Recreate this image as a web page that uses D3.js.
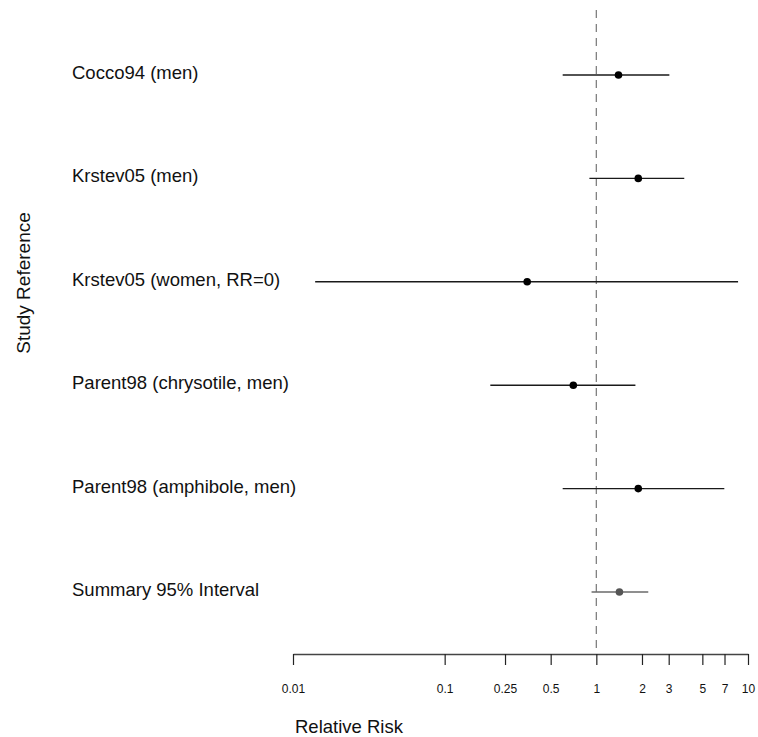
<!DOCTYPE html>
<html>
<head>
<meta charset="utf-8">
<script src="https://cdn.jsdelivr.net/npm/d3@7"></script>
<style>
  html, body { margin: 0; padding: 0; background: #fff; }
  svg { display: block; font-family: "Liberation Sans", Arial, Helvetica, sans-serif; }
</style>
</head>
<body>
<svg id="chart" width="758" height="737"></svg>
<script>
const studies = ["Cocco94 (men)", "Krstev05 (men)", "Krstev05 (women, RR=0)",
                 "Parent98 (chrysotile, men)", "Parent98 (amphibole, men)", "Summary 95% Interval"];
const estimates = [1.40, 1.89, 0.35, 0.705, 1.89, 1.42];
const lower = [0.60, 0.90, 0.014, 0.20, 0.60, 0.93];
const upper = [3.03, 3.8, 8.6, 1.81, 6.98, 2.2];
const tickValues = [0.01, 0.1, 0.25, 0.5, 1, 2, 3, 5, 7, 10];
const tickLabels = ["0.01", "0.1", "0.25", "0.5", "1", "2", "3", "5", "7", "10"];

const svg = d3.select("#chart");
const x = d3.scaleLog().domain([0.01, 10]).range([293, 748]);
const y = d3.scaleLinear().domain([0, studies.length - 1]).range([75, 592]);
const axisY = 654;

// reference line at RR = 1
svg.append("line")
  .attr("x1", x(1)).attr("x2", x(1))
  .attr("y1", 10).attr("y2", axisY)
  .attr("stroke", "#808080").attr("stroke-width", 1.3)
  .attr("stroke-dasharray", "8,6");

const data = studies.map((s, i) => ({ s, i, est: estimates[i], lo: lower[i], hi: upper[i],
  summary: i === studies.length - 1 }));

// labels
svg.append("g").selectAll("text").data(data).join("text")
  .attr("x", 72).attr("y", d => y(d.i) + 4)
  .attr("font-size", 18.5).attr("fill", "#111")
  .text(d => d.s);

// intervals
svg.append("g").selectAll("line").data(data).join("line")
  .attr("x1", d => x(d.lo)).attr("x2", d => x(d.hi))
  .attr("y1", d => y(d.i)).attr("y2", d => y(d.i))
  .attr("stroke", d => d.summary ? "#6a6a6a" : "#1a1a1a")
  .attr("stroke-width", 1.4);

// points
svg.append("g").selectAll("circle").data(data).join("circle")
  .attr("cx", d => x(d.est)).attr("cy", d => y(d.i))
  .attr("r", 3.8)
  .attr("fill", d => d.summary ? "#555" : "#000");

// x axis
const axis = d3.axisBottom(x)
  .tickValues(tickValues)
  .tickFormat((d, i) => tickLabels[i])
  .tickSize(11).tickSizeOuter(0);
const gAxis = svg.append("g").attr("transform", `translate(0,${axisY})`).call(axis);
gAxis.select(".domain").attr("stroke", "#444").attr("stroke-width", 1.5);
gAxis.selectAll(".tick line").attr("stroke", "#222").attr("stroke-width", 1.2);
gAxis.selectAll(".tick text")
  .attr("y", 39).attr("dy", null)
  .attr("font-size", 12).attr("fill", "#111")
  .attr("font-family", "\"Liberation Sans\", Arial, Helvetica, sans-serif");

// axis titles
svg.append("text")
  .attr("x", 295).attr("y", 733)
  .attr("font-size", 18.5).attr("fill", "#111")
  .text("Relative Risk");

svg.append("text")
  .attr("transform", "translate(30,283) rotate(-90)")
  .attr("text-anchor", "middle")
  .attr("font-size", 19).attr("fill", "#111")
  .text("Study Reference");
</script>
</body>
</html>
